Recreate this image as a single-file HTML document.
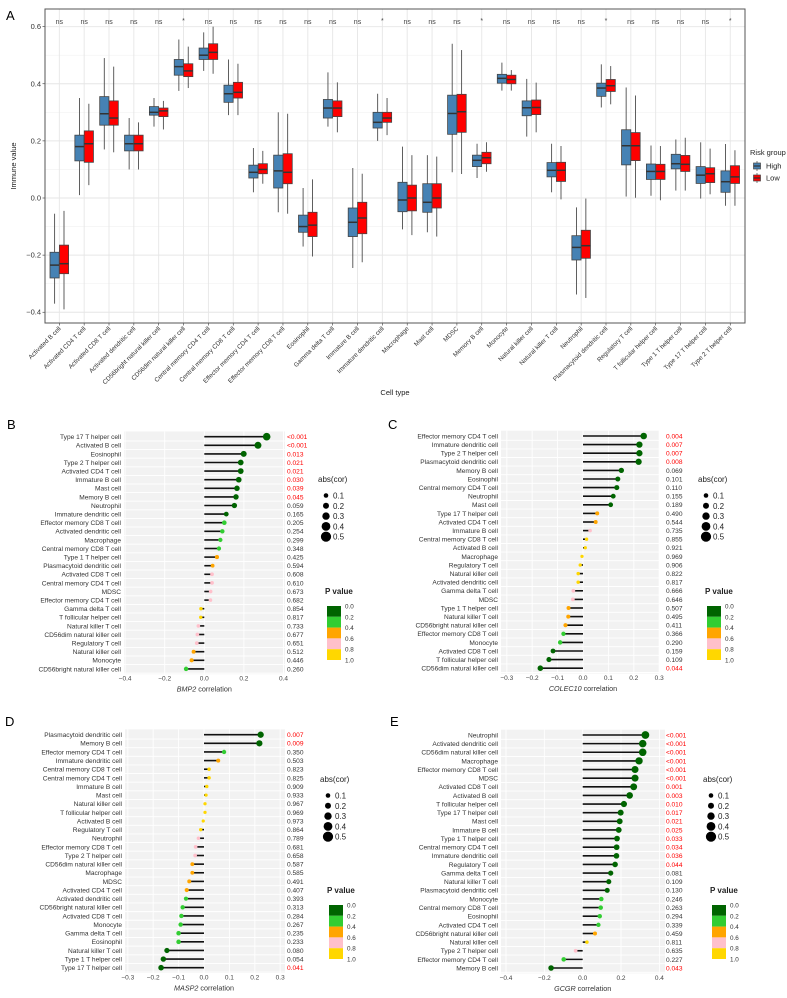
<!DOCTYPE html>
<html><head><meta charset="utf-8"><style>
body{margin:0;background:#fff}
svg{display:block;font-family:"Liberation Sans",Arial,sans-serif}
</style></head><body>
<svg id="fig" width="787" height="998" viewBox="0 0 787 998" xmlns="http://www.w3.org/2000/svg"></svg>
<script>
// ===== Panel A data =====
const aCells=["Activated B cell","Activated CD4 T cell","Activated CD8 T cell","Activated dendritic cell","CD56bright natural killer cell","CD56dim natural killer cell","Central memory CD4 T cell","Central memory CD8 T cell","Effector memory CD4 T cell","Effector memory CD8 T cell","Eosinophil","Gamma delta T cell","Immature  B cell","Immature dendritic cell","Macrophage","Mast cell","MDSC","Memory B cell","Monocyte","Natural killer cell","Natural killer T cell","Neutrophil","Plasmacytoid dendritic cell","Regulatory T cell","T follicular helper cell","Type 1 T helper cell","Type 17 T helper cell","Type 2 T helper cell"];
const aSig=["ns","ns","ns","ns","ns","*","ns","ns","ns","ns","ns","ns","ns","*","ns","ns","ns","*","ns","ns","ns","ns","*","ns","ns","ns","ns","*"];
// [lowWhisker, q1, median, q3, highWhisker]
const aHigh=[[-0.37,-0.28,-0.235,-0.19,-0.055],[0.01,0.13,0.18,0.22,0.35],[0.17,0.255,0.295,0.355,0.49],[0.1,0.165,0.19,0.22,0.28],[0.25,0.29,0.30,0.32,0.35],[0.375,0.43,0.46,0.485,0.555],[0.445,0.485,0.50,0.525,0.58],[0.29,0.335,0.365,0.395,0.485],[0.02,0.07,0.09,0.115,0.175],[-0.05,0.035,0.095,0.15,0.30],[-0.17,-0.12,-0.10,-0.06,0.035],[0.25,0.28,0.315,0.345,0.44],[-0.245,-0.135,-0.085,-0.035,0.105],[0.20,0.245,0.265,0.30,0.365],[-0.11,-0.048,-0.007,0.055,0.18],[-0.12,-0.05,-0.015,0.05,0.15],[0.09,0.223,0.296,0.36,0.54],[0.07,0.11,0.132,0.15,0.19],[0.376,0.402,0.419,0.433,0.474],[0.215,0.288,0.316,0.34,0.417],[0.02,0.074,0.097,0.124,0.19],[-0.338,-0.217,-0.173,-0.132,-0.033],[0.317,0.356,0.385,0.402,0.468],[0.005,0.116,0.183,0.239,0.387],[0.008,0.065,0.093,0.119,0.184],[0.026,0.102,0.12,0.153,0.205],[-0.002,0.051,0.08,0.11,0.195],[-0.027,0.02,0.057,0.095,0.189]];
const aLow=[[-0.39,-0.265,-0.23,-0.165,-0.045],[0.045,0.125,0.19,0.235,0.33],[0.16,0.255,0.28,0.34,0.46],[0.1,0.165,0.19,0.22,0.265],[0.24,0.285,0.305,0.315,0.34],[0.385,0.425,0.445,0.47,0.53],[0.435,0.485,0.51,0.54,0.60],[0.29,0.35,0.37,0.405,0.47],[0.05,0.085,0.10,0.12,0.165],[-0.055,0.05,0.09,0.155,0.295],[-0.205,-0.135,-0.095,-0.05,0.065],[0.23,0.285,0.315,0.34,0.405],[-0.225,-0.125,-0.07,-0.015,0.085],[0.22,0.265,0.28,0.30,0.35],[-0.13,-0.045,0,0.045,0.15],[-0.135,-0.035,0,0.05,0.145],[0.084,0.23,0.302,0.363,0.518],[0.092,0.12,0.141,0.16,0.195],[0.376,0.40,0.415,0.43,0.448],[0.23,0.292,0.317,0.343,0.404],[-0.005,0.058,0.097,0.125,0.182],[-0.35,-0.211,-0.167,-0.113,-0.002],[0.328,0.373,0.393,0.415,0.462],[0.001,0.131,0.183,0.229,0.359],[-0.008,0.065,0.093,0.118,0.182],[0.026,0.093,0.118,0.149,0.211],[0.013,0.054,0.085,0.106,0.173],[-0.027,0.051,0.074,0.113,0.167]];
const aTicks=[-0.4,-0.2,0.0,0.2,0.4,0.6];

// ===== Panel B (BMP2) =====
const bCells=["Type 17 T helper cell","Activated B cell","Eosinophil","Type 2 T helper cell","Activated CD4 T cell","Immature B cell","Mast cell","Memory B cell","Neutrophil","Immature dendritic cell","Effector memory CD8 T cell","Activated dendritic cell","Macrophage","Central memory CD8 T cell","Type 1 T helper cell","Plasmacytoid dendritic cell","Activated CD8 T cell","Central memory CD4 T cell","MDSC","Effector memory CD4 T cell","Gamma delta T cell","T follicular helper cell","Natural killer T cell","CD56dim natural killer cell","Regulatory T cell","Natural killer cell","Monocyte","CD56bright natural killer cell"];
const bCor=[0.315,0.271,0.199,0.184,0.184,0.174,0.165,0.160,0.152,0.111,0.101,0.091,0.081,0.074,0.064,0.042,0.039,0.039,0.032,0.031,-0.017,-0.018,-0.030,-0.035,-0.038,-0.054,-0.064,-0.092];
const bP=["<0.001","<0.001","0.013","0.021","0.021","0.030","0.039","0.045","0.059","0.165","0.205","0.254","0.299","0.348","0.425","0.594","0.608","0.610","0.673","0.682","0.854","0.817","0.733","0.677","0.651","0.512","0.446","0.260"];
const bTicks=[-0.4,-0.2,0.0,0.2,0.4];

// ===== Panel C (COLEC10) =====
const cCells=["Effector memory CD4 T cell","Immature dendritic cell","Type 2 T helper cell","Plasmacytoid dendritic cell","Memory B cell","Eosinophil","Central memory CD4 T cell","Neutrophil","Mast cell","Type 17 T helper cell","Activated CD4 T cell","Immature B cell","Central memory CD8 T cell","Activated B cell","Macrophage","Regulatory T cell","Natural killer cell","Activated dendritic cell","Gamma delta T cell","MDSC","Type 1 T helper cell","Natural killer T cell","CD56bright natural killer cell","Effector memory CD8 T cell","Monocyte","Activated CD8 T cell","T follicular helper cell","CD56dim natural killer cell"];
const cCor=[0.239,0.222,0.222,0.219,0.151,0.137,0.133,0.119,0.109,0.056,0.050,0.028,0.014,0.009,-0.004,-0.011,-0.019,-0.019,-0.038,-0.040,-0.057,-0.058,-0.069,-0.077,-0.090,-0.118,-0.134,-0.168];
const cP=["0.004","0.007","0.007","0.008","0.069","0.101","0.110","0.155","0.189","0.490","0.544","0.735","0.855","0.921","0.969","0.906","0.822","0.817","0.666","0.646","0.507","0.495","0.411","0.366","0.290","0.159","0.109","0.044"];
const cTicks=[-0.3,-0.2,-0.1,0.0,0.1,0.2,0.3];

// ===== Panel D (MASP2) =====
const dCells=["Plasmacytoid dendritic cell","Memory B cell","Effector memory CD4 T cell","Immature dendritic cell","Central memory CD8 T cell","Central memory CD4 T cell","Immature B cell","Mast cell","Natural killer cell","T follicular helper cell","Activated B cell","Regulatory T cell","Neutrophil","Effector memory CD8 T cell","Type 2 T helper cell","CD56dim natural killer cell","Macrophage","MDSC","Activated CD4 T cell","Activated dendritic cell","CD56bright natural killer cell","Activated CD8 T cell","Monocyte","Gamma delta T cell","Eosinophil","Natural killer T cell","Type 1 T helper cell","Type 17 T helper cell"];
const dCor=[0.223,0.218,0.079,0.056,0.020,0.020,0.011,0.008,0.004,0.004,-0.003,-0.013,-0.022,-0.033,-0.035,-0.046,-0.046,-0.058,-0.068,-0.071,-0.084,-0.089,-0.092,-0.100,-0.100,-0.146,-0.160,-0.169];
const dP=["0.007","0.009","0.350","0.503","0.823","0.825","0.909","0.933","0.967","0.969","0.973","0.864","0.789","0.681","0.658","0.587","0.585","0.491","0.407","0.393","0.313","0.284","0.267","0.235","0.233","0.080","0.054","0.041"];
const dTicks=[-0.3,-0.2,-0.1,0.0,0.1,0.2,0.3];

// ===== Panel E (GCGR) =====
const eCells=["Neutrophil","Activated dendritic cell","CD56dim natural killer cell","Macrophage","Effector memory CD8 T cell","MDSC","Activated CD8 T cell","Activated B cell","T follicular helper cell","Type 17 T helper cell","Mast cell","Immature B cell","Type 1 T helper cell","Central memory CD4 T cell","Immature dendritic cell","Regulatory T cell","Gamma delta T cell","Natural killer T cell","Plasmacytoid dendritic cell","Monocyte","Central memory CD8 T cell","Eosinophil","Activated CD4 T cell","CD56bright natural killer cell","Natural killer cell","Type 2 T helper cell","Effector memory CD4 T cell","Memory B cell"];
const eCor=[0.327,0.313,0.313,0.294,0.273,0.273,0.266,0.245,0.215,0.198,0.193,0.188,0.179,0.177,0.176,0.169,0.146,0.136,0.128,0.097,0.094,0.089,0.082,0.064,0.022,-0.037,-0.099,-0.165];
const eP=["<0.001","<0.001","<0.001","<0.001","<0.001","<0.001","0.001","0.003","0.010","0.017","0.021","0.025","0.033","0.034","0.036","0.044","0.081","0.109","0.130","0.246","0.263","0.294","0.339","0.459","0.811","0.635","0.227","0.043"];
const eTicks=[-0.4,-0.2,0.0,0.2,0.4];

const legendSizes=[0.1,0.2,0.3,0.4,0.5];
const legendPLabels=["0.0","0.2","0.4","0.6","0.8","1.0"];
const pColors=["#006400","#32CD32","#FFA500","#FFC0CB","#FFD700"];

const NS="http://www.w3.org/2000/svg";
const svg=document.getElementById('fig');
function mk(tag,attrs,parent,text){const e=document.createElementNS(NS,tag);for(const k in attrs)e.setAttribute(k,attrs[k]);if(text!==undefined)e.textContent=text;(parent||svg).appendChild(e);return e;}
function rad(v){return 1.6+7*Math.abs(v);}

// ===== Panel A =====
(function(){
  const g=mk('g',{});
  
  
  const L=45,R=745,T=9,B=323;
  const y=v=>198-v*285.6;
  const x=i=>59.3+i*24.85;
  mk('rect',{x:L,y:T,width:R-L,height:B-T,fill:'#fff'},g);
  for(let v=-0.3;v<0.65;v+=0.2){mk('line',{x1:L,x2:R,y1:y(v),y2:y(v),stroke:'#f2f2f2','stroke-width':0.6},g);}
  aTicks.forEach(v=>{
    const l=mk('line',{x1:L,x2:R,y1:y(v),y2:y(v),stroke:'#e6e6e6','stroke-width':0.9},g);
    
    const t=mk('text',{x:41,y:y(v)+2.5,'font-size':7.5,'text-anchor':'end',fill:'#333'},g,v.toFixed(1).replace('-','\u2212'));
    
    mk('line',{x1:42.5,x2:45,y1:y(v),y2:y(v),stroke:'#333','stroke-width':0.6},g);
  });
  aCells.forEach((c,i)=>{
    mk('line',{x1:x(i),x2:x(i),y1:T,y2:B,stroke:'#e6e6e6','stroke-width':0.9},g);
  });
  function box(d,cx,fill,name){
    const bg=mk('g',{},g);
    
    
    mk('line',{x1:cx,x2:cx,y1:y(d[0]),y2:y(d[4]),stroke:'#4d4d4d','stroke-width':0.9},bg);
    mk('rect',{x:cx-4.6,y:y(d[3]),width:9.2,height:y(d[1])-y(d[3]),fill:fill,stroke:'#444','stroke-width':0.8},bg);
    mk('line',{x1:cx-4.6,x2:cx+4.6,y1:y(d[2]),y2:y(d[2]),stroke:'#333','stroke-width':1.5},bg);
  }
  aCells.forEach((c,i)=>{
    box(aHigh[i],x(i)-4.7,'#4682B4','box-high');
    box(aLow[i],x(i)+4.7,'#FF0000','box-low');
    const s=mk('text',{x:x(i),y:aSig[i]=='*'?23:24,'font-size':7,'text-anchor':'middle',fill:'#444'},g,aSig[i]);
    
    mk('line',{x1:x(i),x2:x(i),y1:B,y2:B+2.5,stroke:'#333','stroke-width':0.6},g);
    const t=mk('text',{x:x(i)+2,y:B+6,'font-size':6.3,'text-anchor':'end',fill:'#333',transform:`rotate(-45 ${x(i)+2} ${B+6})`},g,c);
    
  });
  mk('rect',{x:L,y:T,width:R-L,height:B-T,fill:'none',stroke:'#555','stroke-width':1},g);
  const yt=mk('text',{x:16,y:166,'font-size':7.5,'text-anchor':'middle',fill:'#222',transform:'rotate(-90 16 166)'},g,'Immune value');
  
  const xt=mk('text',{x:395,y:395,'font-size':7.5,'text-anchor':'middle',fill:'#222'},g,'Cell type');
  
  const lg=mk('g',{},g);
  
  mk('text',{x:750,y:155,'font-size':7.5,fill:'#222'},lg,'Risk group');
  [['High','#4682B4',166],['Low','#FF0000',178]].forEach(k=>{
    const e=mk('g',{},lg);
    
    mk('line',{x1:757,x2:757,y1:k[2]-5,y2:k[2]+5,stroke:'#444','stroke-width':0.7},e);
    mk('rect',{x:753.5,y:k[2]-3,width:7,height:6,fill:k[1],stroke:'#444','stroke-width':0.7},e);
    mk('line',{x1:753.5,x2:760.5,y1:k[2],y2:k[2],stroke:'#333','stroke-width':1.2},e);
    mk('text',{x:766,y:k[2]+2.5,'font-size':7.5,fill:'#222'},e,k[0]);
  });
  const pa=mk('text',{x:6,y:20,'font-size':13,fill:'#000'},svg,'A');
  
})();

// ===== Lollipop panels =====
function lollipop(cfg,cells,cor,pv,ticks){
  const g=mk('g',{});
  
  
  const x=v=>cfg.x0+v*cfg.k;
  const rh=cfg.rh;
  const ry=i=>cfg.y0+i*rh;
  const top=ry(0)-rh/2-1, bot=ry(cells.length-1)+rh/2+1;
  mk('rect',{x:cfg.bl,y:top,width:cfg.br-cfg.bl,height:bot-top,fill:'#F2F2F2'},g);
  cells.forEach((c,i)=>{mk('line',{x1:cfg.bl,x2:cfg.br,y1:ry(i)+rh/2,y2:ry(i)+rh/2,stroke:'#fff','stroke-width':0.9},g);});
  ticks.forEach(v=>{
    mk('line',{x1:x(v),x2:x(v),y1:top,y2:bot,stroke:'#fff','stroke-width':0.9},g);
    const t=mk('text',{x:x(v),y:bot+6.5,'font-size':6.5,'text-anchor':'middle',fill:'#444'},g,(Math.abs(v)<1e-9?'0.0':v.toFixed(1)).replace('-','\u2212'));
    
  });
  cells.forEach((c,i)=>{
    const t=mk('text',{x:cfg.bl-3,y:ry(i)+2.4,'font-size':6.6,'text-anchor':'end',fill:'#333'},g,c);
    
    const pnum=pv[i].startsWith('<')?0:parseFloat(pv[i]);
    const col=pColors[Math.min(4,Math.floor(pnum/0.2))];
    const s=mk('line',{x1:x(0),x2:x(cor[i]),y1:ry(i),y2:ry(i),stroke:'#111','stroke-width':1.6},g);
    
    const d=mk('circle',{cx:x(cor[i]),cy:ry(i),r:rad(cor[i]),fill:col},g);
    
    const p=mk('text',{x:cfg.px,y:ry(i)+2.4,'font-size':6.6,fill:pnum<0.05?'#FF0000':'#333'},g,pv[i]);
    
  });
  const at=mk('text',{x:x(0),y:bot+17.5,'font-size':7.2,'text-anchor':'middle',fill:'#333'},g);
  
  mk('tspan',{'font-style':'italic'},at,cfg.gene);
  mk('tspan',{},at,' correlation');
  const sl=mk('g',{},g);
  
  mk('text',{x:cfg.lx-8,y:cfg.ly,'font-size':8,fill:'#222'},sl,'abs(cor)');
  legendSizes.forEach((v,j)=>{
    const yy=cfg.ly+13.5+j*10.3;
    mk('circle',{cx:cfg.lx,cy:yy,r:rad(v),fill:'#000'},sl);
    mk('text',{x:cfg.lx+7,y:yy+3,'font-size':8,fill:'#222'},sl,v.toFixed(1));
  });
  const cl=mk('g',{},g);
  
  mk('text',{x:cfg.lx-1,y:cfg.ply,'font-size':8,'font-weight':'bold',fill:'#222'},cl,'P value');
  pColors.forEach((c,j)=>{mk('rect',{x:cfg.lx+1,y:cfg.ply+12+j*10.8,width:14,height:10.8,fill:c},cl);});
  legendPLabels.forEach((l,j)=>{mk('text',{x:cfg.lx+19,y:cfg.ply+14.5+j*10.8,'font-size':6.3,fill:'#333'},cl,l);});
  const pl=mk('text',{x:cfg.lbx,y:cfg.lby,'font-size':13,fill:'#000'},svg,cfg.letter);
  
}
lollipop({name:'bmp2-lollipop',gene:'BMP2',x0:204.3,k:198,y0:436.7,rh:8.6,bl:124,br:285,px:287,lx:326,ly:482,ply:594,letter:'B',lbx:7,lby:429},bCells,bCor,bP,bTicks);
lollipop({name:'colec10-lollipop',gene:'COLEC10',x0:583,k:254,y0:436,rh:8.6,bl:501,br:659,px:666,lx:706,ly:482,ply:594,letter:'C',lbx:388,lby:429},cCells,cCor,cP,cTicks);
lollipop({name:'masp2-lollipop',gene:'MASP2',x0:204,k:254,y0:734.7,rh:8.63,bl:125,br:285,px:287,lx:328,ly:782,ply:893,letter:'D',lbx:5,lby:726},dCells,dCor,dP,dTicks);
lollipop({name:'gcgr-lollipop',gene:'GCGR',x0:582.7,k:191.7,y0:735,rh:8.63,bl:501,br:665,px:666,lx:711,ly:782,ply:893,letter:'E',lbx:390,lby:726},eCells,eCor,eP,eTicks);
</script>
</body></html>
